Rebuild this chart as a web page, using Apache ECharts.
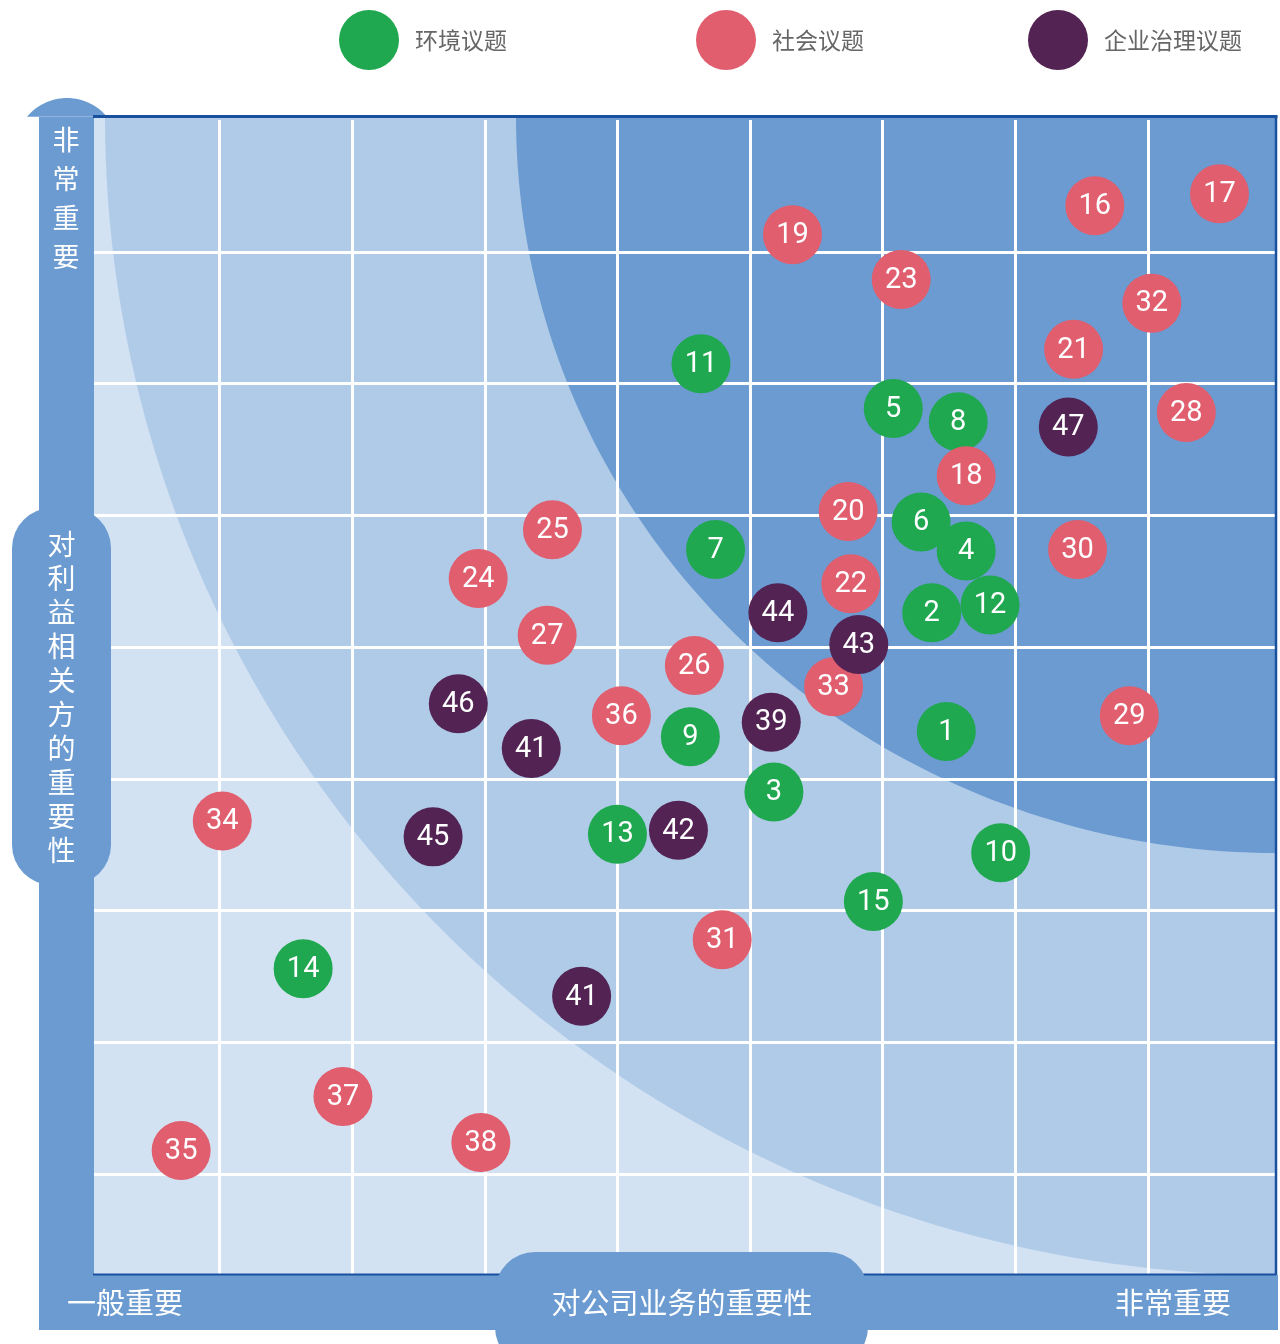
<!DOCTYPE html>
<html>
<head>
<meta charset="utf-8">
<script src="https://cdn.jsdelivr.net/npm/echarts@6.0.0/dist/echarts.min.js"></script>
<style>
  html, body { margin: 0; padding: 0; background: #fff; }
  #main { width: 1280px; height: 1344px; }
</style>
</head>
<body>
<div id="main"></div>
<script>
// [对公司业务的重要性, 对利益相关方的重要性, 议题编号]
var envData = [
  [4.63, 7.15, 11], [6.08, 6.81, 5], [6.57, 6.71, 8], [6.29, 5.95, 6],
  [6.63, 5.73, 4], [4.74, 5.74, 7], [6.37, 5.26, 2], [6.81, 5.32, 12],
  [6.48, 4.36, 1], [4.55, 4.32, 9], [5.18, 3.90, 3], [4.00, 3.58, 13],
  [6.89, 3.44, 10], [5.93, 3.07, 15], [1.63, 2.56, 14]
];
var socData = [
  [7.60, 8.35, 16], [8.54, 8.44, 17], [5.32, 8.13, 19], [6.14, 7.79, 23],
  [8.03, 7.61, 32], [7.44, 7.26, 21], [8.29, 6.78, 28], [6.63, 6.30, 18],
  [5.74, 6.03, 20], [7.47, 5.74, 30], [3.51, 5.89, 25], [2.95, 5.52, 24],
  [5.76, 5.48, 22], [3.47, 5.09, 27], [4.58, 4.86, 26], [5.63, 4.70, 33],
  [4.03, 4.48, 36], [7.86, 4.48, 29], [1.02, 3.68, 34], [4.79, 2.78, 31],
  [1.93, 1.59, 37], [2.97, 1.24, 38], [0.71, 1.18, 35]
];
var govData = [
  [7.40, 6.67, 47], [5.21, 5.26, 44], [5.82, 5.02, 43], [2.80, 4.57, 46],
  [5.16, 4.43, 39], [3.35, 4.23, 41], [2.61, 3.56, 45], [4.46, 3.61, 42],
  [3.73, 2.35, 41]
];
var seriesNames = ['环境议题', '社会议题', '企业治理议题'];
var seriesColors = ['#1fa84f', '#e05e6e', '#532353'];
var yTitle = '对利益相关方的重要性';
var xTitle = '对公司业务的重要性';

var CJK = '"Noto Sans CJK SC", "Noto Sans", sans-serif';
var BAND = '#6b9bd0';

// quarter ellipse around the top-right corner of the plot
function quarterEllipse(cx, cy, rx, ry) {
  var pts = [[cx, cy]];
  for (var i = 0; i <= 90; i++) {
    var a = Math.PI / 2 + (Math.PI / 2) * i / 90;
    pts.push([cx + rx * Math.cos(a), cy + ry * Math.sin(a)]);
  }
  return pts;
}
function capArc(cx, cy, r, halfChord) {
  var h = Math.sqrt(r * r - halfChord * halfChord);
  var a0 = Math.PI + Math.atan2(h, halfChord);
  var a1 = 2 * Math.PI - Math.atan2(h, halfChord);
  var pts = [];
  for (var i = 0; i <= 40; i++) {
    var a = a0 + (a1 - a0) * i / 40;
    pts.push([cx + r * Math.cos(a), cy + r * Math.sin(a)]);
  }
  return pts;
}
function vtext(s) { return s.split('').join('\n'); }

function makeSeries(idx, data) {
  return {
    name: seriesNames[idx],
    type: 'scatter',
    z: 3,
    data: data,
    symbolSize: 59,
    itemStyle: { color: seriesColors[idx], opacity: 1 },
    label: {
      show: true,
      position: 'inside',
      offset: [0, 1],
      formatter: function (p) { return p.value[2]; },
      color: '#fff',
      fontSize: 29,
      fontFamily: 'Roboto, "Noto Sans", sans-serif'
    },
    emphasis: { scale: false }
  };
}
function makeLegend(idx, left) {
  return {
    data: [seriesNames[idx]],
    left: left,
    top: 5,
    icon: 'circle',
    itemWidth: 60,
    itemHeight: 60,
    selectedMode: false,
    z: 8,
    textStyle: { fontSize: 23, color: '#666', fontFamily: CJK, padding: [0, 0, 0, 11] }
  };
}

var chart = echarts.init(document.getElementById('main'));
chart.setOption({
  animation: false,
  backgroundColor: '#fff',
  legend: [makeLegend(0, 334), makeLegend(1, 691), makeLegend(2, 1023)],
  grid: { left: 87, top: 120, width: 1189.5, height: 1186 },
  xAxis: {
    type: 'value', min: 0, max: 8.97, interval: 1, z: 1,
    axisLine: { show: false }, axisTick: { show: false }, axisLabel: { show: false },
    splitLine: { show: true, lineStyle: { color: '#fff', width: 3 } }
  },
  yAxis: {
    type: 'value', min: 0, max: 9, interval: 1, z: 1,
    axisLine: { show: false }, axisTick: { show: false }, axisLabel: { show: false },
    splitLine: { show: true, showMaxLine: false, lineStyle: { color: '#fff', width: 3 } }
  },
  graphic: [
    { type: 'rect', z: 0, silent: true, shape: { x: 87, y: 117, width: 1190, height: 1190 }, style: { fill: '#d2e2f3' } },
    { type: 'polygon', z: 0, silent: true, shape: { points: quarterEllipse(1276, 117, 1171, 1158) }, style: { fill: '#b0cbe8' } },
    { type: 'polygon', z: 0, silent: true, shape: { points: quarterEllipse(1276, 117, 760, 736) }, style: { fill: BAND } },
    { type: 'rect', z: 0, silent: true, shape: { x: 1277, y: 100, width: 10, height: 1240 }, style: { fill: '#fff' } },

    { type: 'rect', z: 5, silent: true, shape: { x: 39, y: 117, width: 55, height: 1213 }, style: { fill: BAND } },
    { type: 'polygon', z: 5, silent: true, shape: { points: capArc(67, 150, 52, 40) }, style: { fill: BAND } },
    { type: 'rect', z: 5, silent: true, shape: { x: 39, y: 1275, width: 1239, height: 55 }, style: { fill: BAND } },
    { type: 'line', z: 5, silent: true, shape: { x1: 93, y1: 116.5, x2: 1277.5, y2: 116.5 }, style: { stroke: '#1a519f', lineWidth: 3 } },
    { type: 'line', z: 5, silent: true, shape: { x1: 1276, y1: 116, x2: 1276, y2: 1275 }, style: { stroke: '#1a519f', lineWidth: 2.5 } },
    { type: 'line', z: 5, silent: true, shape: { x1: 93, y1: 1274.5, x2: 1276, y2: 1274.5 }, style: { stroke: '#1a519f', lineWidth: 2 } },

    { type: 'rect', z: 6, silent: true, shape: { x: 12, y: 508, width: 99, height: 377, r: 40 }, style: { fill: BAND } },
    { type: 'rect', z: 6, silent: true, shape: { x: 495, y: 1252, width: 373, height: 115, r: 40 }, style: { fill: BAND } },

    { type: 'text', z: 7, silent: true, x: 66, y: 198,
      style: { text: vtext('非常重要'), fill: '#fff', fontSize: 27, lineHeight: 39, fontFamily: CJK,
               align: 'center', verticalAlign: 'middle', textAlign: 'center', textVerticalAlign: 'middle' } },
    { type: 'text', z: 7, silent: true, x: 61.5, y: 697,
      style: { text: vtext(yTitle), fill: '#fff', fontSize: 28, lineHeight: 34, fontFamily: CJK,
               align: 'center', verticalAlign: 'middle', textAlign: 'center', textVerticalAlign: 'middle' } },
    { type: 'text', z: 7, silent: true, x: 125, y: 1303,
      style: { text: '一般重要', fill: '#fff', fontSize: 29, fontFamily: CJK,
               align: 'center', verticalAlign: 'middle', textAlign: 'center', textVerticalAlign: 'middle' } },
    { type: 'text', z: 7, silent: true, x: 682, y: 1303,
      style: { text: xTitle, fill: '#fff', fontSize: 29, fontFamily: CJK,
               align: 'center', verticalAlign: 'middle', textAlign: 'center', textVerticalAlign: 'middle' } },
    { type: 'text', z: 7, silent: true, x: 1173, y: 1303,
      style: { text: '非常重要', fill: '#fff', fontSize: 29, fontFamily: CJK,
               align: 'center', verticalAlign: 'middle', textAlign: 'center', textVerticalAlign: 'middle' } }
  ],
  series: [makeSeries(0, envData), makeSeries(1, socData), makeSeries(2, govData)]
});
</script>
</body>
</html>
